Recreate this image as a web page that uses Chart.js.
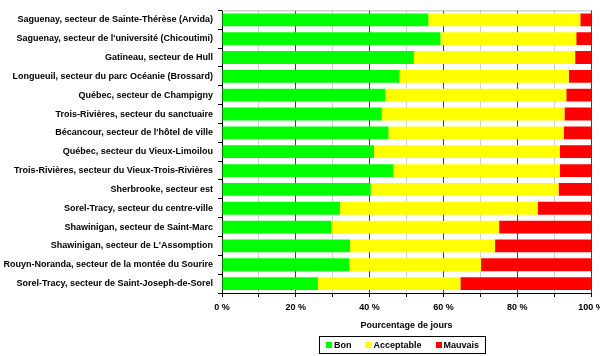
<!DOCTYPE html>
<html>
<head>
<meta charset="utf-8">
<script src="https://cdn.jsdelivr.net/npm/chart.js@4/dist/chart.umd.min.js"></script>
<style>
  html, body { margin: 0; padding: 0; background: #fff; }
  #wrap { position: relative; width: 600px; height: 356px; }
  #legend {
    position: absolute; left: 319px; top: 336px; width: 165px; height: 16px;
    border: 1px solid #000; display: flex; align-items: center; justify-content: center;
    font: bold 9px "Liberation Sans", Arial, sans-serif; color: #000; gap: 14px;
  }
  #legend span.sw { display: inline-block; width: 6px; height: 6px; margin-right: 2px; vertical-align: middle; }
  #legend .it { display: flex; align-items: center; white-space: nowrap; }
</style>
</head>
<body>
<div id="wrap">
  <canvas id="c" width="600" height="356"></canvas>
  <div id="legend"></div>
</div>
<script>
const categories = [
  "Saguenay, secteur de Sainte-Thérèse (Arvida)",
  "Saguenay, secteur de l'université (Chicoutimi)",
  "Gatineau, secteur de Hull",
  "Longueuil, secteur du parc Océanie (Brossard)",
  "Québec, secteur de Champigny",
  "Trois-Rivières, secteur du sanctuaire",
  "Bécancour, secteur de l'hôtel de ville",
  "Québec, secteur du Vieux-Limoilou",
  "Trois-Rivières, secteur du Vieux-Trois-Rivières",
  "Sherbrooke, secteur est",
  "Sorel-Tracy, secteur du centre-ville",
  "Shawinigan, secteur de Saint-Marc",
  "Shawinigan, secteur de L'Assomption",
  "Rouyn-Noranda, secteur de la montée du Sourire",
  "Sorel-Tracy, secteur de Saint-Joseph-de-Sorel"
];
const seriesNames = ["Bon", "Acceptable", "Mauvais"];
const bon        = [55.9, 59.2, 52.0, 48.1, 44.2, 43.3, 45.1, 41.2, 46.4, 40.3, 32.0, 29.7, 34.7, 34.5, 26.0];
const acceptable = [41.2, 36.8, 43.7, 45.9, 49.1, 49.5, 47.5, 50.4, 45.2, 50.9, 53.6, 45.4, 39.3, 35.7, 38.6];
const mauvais    = [2.9, 4.0, 4.3, 6.0, 6.7, 7.2, 7.4, 8.4, 8.4, 8.8, 14.4, 24.9, 26.0, 29.8, 35.4];
const xTicks = [0, 20, 40, 60, 80, 100];
const axisTitle = "Pourcentage de jours";
const colors = ["#00FF00", "#FFFF00", "#FF0000"];

const FONT = "'Liberation Sans', Arial, sans-serif";

const topBorder = {
  id: 'topBorder',
  afterDatasetsDraw(chart) {
    const {ctx, chartArea: a} = chart;
    ctx.save();
    ctx.strokeStyle = '#bbbbbb';
    ctx.lineWidth = 1;
    ctx.beginPath();
    ctx.moveTo(a.left, a.top + 0.5);
    ctx.lineTo(a.right, a.top + 0.5);
    ctx.stroke();
    ctx.restore();
  }
};

const chart = new Chart(document.getElementById('c'), {
  type: 'bar',
  data: {
    labels: categories,
    datasets: [
      { label: seriesNames[0], data: bon, backgroundColor: colors[0] },
      { label: seriesNames[1], data: acceptable, backgroundColor: colors[1] },
      { label: seriesNames[2], data: mauvais, backgroundColor: colors[2] }
    ]
  },
  options: {
    indexAxis: 'y',
    responsive: false,
    animation: false,
    devicePixelRatio: 1,
    layout: { padding: { top: 5, right: 9, left: 0, bottom: 23 } },
    datasets: { bar: { barPercentage: 0.68, categoryPercentage: 1.0, borderWidth: 0 } },
    plugins: { legend: { display: false }, tooltip: { enabled: false } },
    scales: {
      x: {
        stacked: true, min: 0, max: 100,
        ticks: {
          stepSize: 10, autoSkip: false, maxRotation: 0, padding: 5,
          color: '#000', font: { family: FONT, size: 9, weight: 'bold' },
          callback: (v) => xTicks.includes(v) ? v + ' %' : ''
        },
        grid: {
          color: (ctx) => (ctx.tick && xTicks.includes(ctx.tick.value)) ? '#444444' : '#d0d0d0',
          tickColor: '#000', tickLength: 4, drawTicks: true
        },
        border: { color: '#000', width: 1 },
        title: {
          display: true, text: axisTitle, color: '#000',
          font: { family: FONT, size: 9, weight: 'bold' },
          padding: { top: 2, bottom: 2 }
        },
        afterFit: (s) => { s.height = 40; s.paddingRight = 0; s.paddingLeft = 0; }
      },
      y: {
        stacked: true,
        ticks: { color: '#000', padding: 5, autoSkip: false, font: { family: FONT, size: 9, weight: 'bold' } },
        grid: { offset: true, drawOnChartArea: false, drawTicks: true, tickLength: 4, tickColor: '#000' },
        border: { color: '#000', width: 1 },
        afterFit: (s) => { s.width = 222; }
      }
    }
  },
  plugins: [topBorder]
});

const lg = document.getElementById('legend');
chart.data.datasets.forEach(ds => {
  const it = document.createElement('span');
  it.className = 'it';
  const sw = document.createElement('span');
  sw.className = 'sw';
  sw.style.background = ds.backgroundColor;
  it.appendChild(sw);
  it.appendChild(document.createTextNode(ds.label));
  lg.appendChild(it);
});
</script>
</body>
</html>
